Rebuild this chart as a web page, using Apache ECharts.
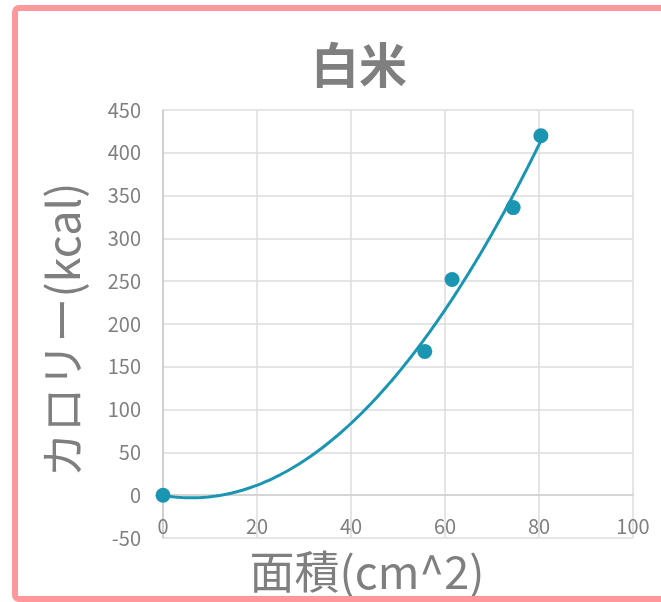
<!DOCTYPE html>
<html>
<head>
<meta charset="utf-8">
<script src="https://cdn.jsdelivr.net/npm/echarts@6/dist/echarts.min.js"></script>
<style>
  html, body { margin: 0; padding: 0; background: #fff; }
  #chart { width: 661px; height: 602px; }
</style>
</head>
<body>
<div id="chart"></div>
<script>
// Measured rice portions: area (cm^2) vs. calories (kcal)
const areaValues = [0, 55.7, 61.5, 74.5, 80.4];
const calorieValues = [0, 168, 252, 336, 420];

const titleText = '白米';
const xAxisTitle = '面積(cm^2)';
const yAxisTitle = 'カロリー(kcal)';

// Least-squares quadratic fit (second-order polynomial trendline)
function quadFit(xs, ys) {
  let s0 = xs.length, s1 = 0, s2 = 0, s3 = 0, s4 = 0, t0 = 0, t1 = 0, t2 = 0;
  for (let i = 0; i < xs.length; i++) {
    const x = xs[i], y = ys[i];
    s1 += x; s2 += x * x; s3 += x * x * x; s4 += x * x * x * x;
    t0 += y; t1 += x * y; t2 += x * x * y;
  }
  // Solve normal equations with Cramer's rule
  const det = (m) =>
    m[0][0] * (m[1][1] * m[2][2] - m[1][2] * m[2][1]) -
    m[0][1] * (m[1][0] * m[2][2] - m[1][2] * m[2][0]) +
    m[0][2] * (m[1][0] * m[2][1] - m[1][1] * m[2][0]);
  const A = [[s0, s1, s2], [s1, s2, s3], [s2, s3, s4]];
  const B = [t0, t1, t2];
  const D = det(A);
  const coef = [0, 1, 2].map((k) => {
    const M = A.map((row, r) => row.map((v, c) => (c === k ? B[r] : v)));
    return det(M) / D;
  });
  return (x) => coef[0] + coef[1] * x + coef[2] * x * x;
}

const fit = quadFit(areaValues, calorieValues);
const xMaxData = Math.max(...areaValues);
const trend = [];
for (let i = 0; i <= 200; i++) {
  const x = (xMaxData * i) / 200;
  trend.push([x, fit(x)]);
}

const points = areaValues.map((x, i) => [x, calorieValues[i]]);

const FONT = '"Noto Sans CJK JP", "Noto Sans", sans-serif';
const GRAY = '#7f7f7f';
const TEAL = '#1a95b2';

const chart = echarts.init(document.getElementById('chart'), null, { renderer: 'canvas' });
chart.setOption({
  animation: false,
  backgroundColor: '#ffffff',
  graphic: [{
    type: 'rect',
    shape: { x: 15, y: 8, width: 700, height: 591, r: 4 },
    style: { fill: 'none', stroke: '#ff979b', lineWidth: 6 },
    z: 100
  }],
  title: {
    text: titleText,
    left: 354,
    top: 36,
    textAlign: 'center',
    textStyle: { fontFamily: FONT, fontSize: 48, fontWeight: 'bold', color: GRAY }
  },
  grid: {
    left: 163, right: 28, top: 110, bottom: 64,
    containLabel: false,
    outerBoundsMode: 'none'
  },
  xAxis: {
    type: 'value',
    min: 0, max: 100, interval: 20,
    name: xAxisTitle,
    nameLocation: 'middle',
    nameGap: 11,
    nameTextStyle: { fontFamily: FONT, fontSize: 45, color: GRAY, padding: [0, 62, 0, 0] },
    axisLine: { show: true, lineStyle: { color: '#d0d0d0', width: 1.5 } },
    axisTick: { show: false },
    // labels sit just above the bottom edge of the plot
    axisLabel: { margin: -22, fontFamily: FONT, fontSize: 20, color: GRAY },
    splitLine: { show: true, lineStyle: { color: '#dcdcdc', width: 1.5 } }
  },
  yAxis: {
    type: 'value',
    min: -50, max: 450, interval: 50,
    name: yAxisTitle,
    nameLocation: 'middle',
    nameRotate: 90,
    nameGap: 78,
    nameTextStyle: { fontFamily: FONT, fontSize: 45, color: GRAY, padding: [0, 12, 0, 0] },
    axisLine: { show: true, onZero: false, lineStyle: { color: '#c8c8c8', width: 1.5 } },
    axisTick: { show: false },
    axisLabel: { margin: 22, fontFamily: FONT, fontSize: 20, color: GRAY },
    splitLine: { show: true, lineStyle: { color: '#dcdcdc', width: 1.5 } }
  },
  series: [
    {
      type: 'line',
      data: trend,
      showSymbol: false,
      smooth: false,
      lineStyle: { color: TEAL, width: 3 },
      z: 3
    },
    {
      type: 'scatter',
      data: points,
      symbol: 'circle',
      symbolSize: 15,
      itemStyle: { color: TEAL, opacity: 1 },
      z: 4
    }
  ]
});
</script>
</body>
</html>
